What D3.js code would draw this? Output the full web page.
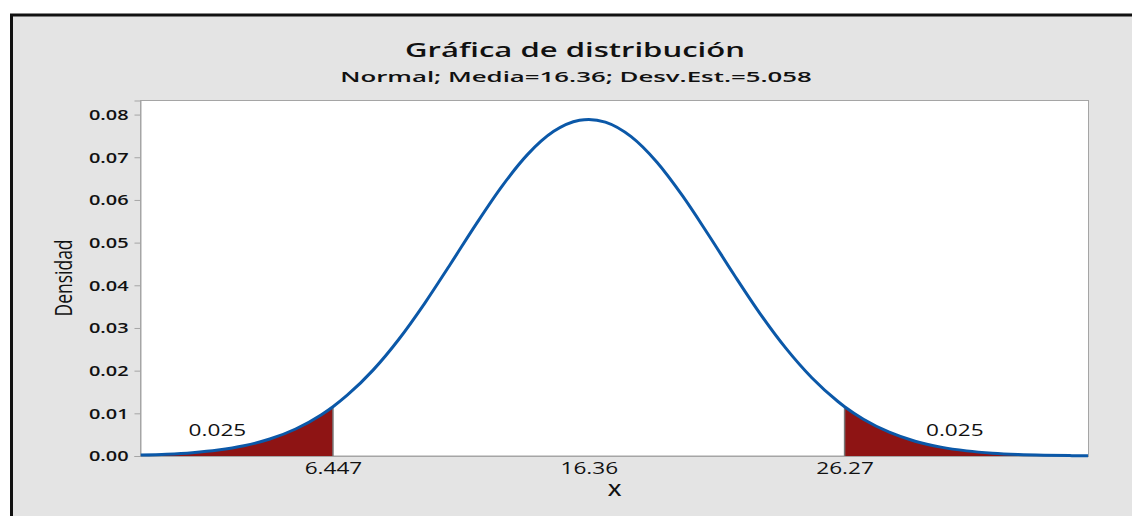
<!DOCTYPE html>
<head>
  <meta charset="utf-8">
  <script src="https://cdn.jsdelivr.net/npm/d3@7/dist/d3.min.js"></script>
  <style>
    body { margin:0; background:#fff; }
    text { font-family:"Open Sans","Noto Sans",sans-serif; fill:#111; }
  </style>
</head>

<body>
  <script>
    // density, x in units of X
    var densX = [-1, 0, 1, 2, 3, 4, 5, 6, 6.447, 7, 8, 9, 10, 11, 12, 13, 14, 15, 16, 16.36,
                 17, 18, 19, 20, 21, 22, 23, 24, 25, 26, 26.27, 27, 28, 29, 30, 31, 32, 33, 34, 35, 35.7];
    var densY = [0.00022, 0.00042, 0.00078, 0.00140, 0.00241, 0.00398, 0.00633, 0.00968, 0.01155, 0.01424,
                 0.02012, 0.02736, 0.03578, 0.04499, 0.05440, 0.06325, 0.07073, 0.07607, 0.07867, 0.07887,
                 0.07824, 0.07483, 0.06883, 0.06087, 0.05178, 0.04236, 0.03332, 0.02521, 0.01834, 0.01283,
                 0.01155, 0.00863, 0.00558, 0.00347, 0.00208, 0.00120, 0.00066, 0.00035, 0.00018, 0.00009, 0.00005];
    var xTicks = [6.447, 16.36, 26.27];
    var yTicks = [0, 0.01, 0.02, 0.03, 0.04, 0.05, 0.06, 0.07, 0.08];
    var tailProbs = ["0.025", "0.025"];
    var leftCut = 6.447, rightCut = 26.27;
    var titleText = "Gráfica de distribución",
        subText = "Normal; Media=16.36; Desv.Est.=5.058",
        xLabel = "X",
        yLabel = "Densidad";

    var width = 1132,
        height = 516,
        sx = 1.33;   // the picture is stretched sideways, so is the text

    var svg = d3.select("body")
      .append("svg")
      .attr("width", width)
      .attr("height", height);

    // grey graph region with black frame
    svg.append("rect")
      .attr("x", 11.5).attr("y", 15)
      .attr("width", 1200).attr("height", 600)
      .attr("fill", "#e4e4e4")
      .attr("stroke", "#111")
      .attr("stroke-width", 3);

    var pLeft = 140.5, pRight = 1088.5, pTop = 100.5, pBottom = 456;

    var x = d3.scaleLinear().domain([-1.01, 35.72]).range([pLeft, pRight]);
    var y = d3.scaleLinear().domain([0, 0.0833]).range([pBottom, pTop]);

    svg.append("rect")
      .attr("x", pLeft).attr("y", pTop)
      .attr("width", pRight - pLeft).attr("height", pBottom - pTop)
      .attr("fill", "#fff")
      .attr("stroke", "#a5a5a5");

    var pts = densX.map(function(d, i) { return {x: d, y: densY[i]}; });

    // tails: same area clipped at the cut points
    var defs = svg.append("defs");
    defs.append("clipPath").attr("id", "tailL").append("rect")
      .attr("x", pLeft).attr("y", pTop)
      .attr("width", x(leftCut) - pLeft).attr("height", pBottom - pTop);
    defs.append("clipPath").attr("id", "tailR").append("rect")
      .attr("x", x(rightCut)).attr("y", pTop)
      .attr("width", pRight - x(rightCut)).attr("height", pBottom - pTop);

    var area = d3.area()
      .x(function(d) { return x(d.x); })
      .y0(y(0))
      .y1(function(d) { return y(d.y); })
      .curve(d3.curveMonotoneX);

    ["tailL", "tailR"].forEach(function(id) {
      svg.append("path")
        .datum(pts)
        .attr("d", area)
        .attr("fill", "#8e1414")
        .attr("clip-path", "url(#" + id + ")");
    });

    [leftCut, rightCut].forEach(function(c) {
      var v = densY[densX.indexOf(c)];
      svg.append("line")
        .attr("x1", x(c)).attr("x2", x(c))
        .attr("y1", y(0)).attr("y2", y(v))
        .attr("stroke", "#777")
        .attr("stroke-width", 1.5);
    });

    // axes
    var yAxis = svg.append("g")
      .attr("transform", "translate(" + pLeft + ",0)")
      .call(d3.axisLeft(y).tickValues(yTicks).tickFormat(d3.format(".2f")).tickSize(6).tickPadding(3));
    yAxis.select(".domain").attr("stroke", "#a5a5a5");
    yAxis.selectAll(".tick line").attr("stroke", "#a5a5a5");
    yAxis.selectAll(".tick text")
      .attr("transform", "scale(" + sx + ",1)")
      .style("font-size", "15px")
      .style("font-weight", 600)
      .attr("fill", "#111");

    var xAxis = svg.append("g")
      .attr("transform", "translate(0," + pBottom + ")")
      .call(d3.axisBottom(x).tickValues(xTicks).tickFormat(function(d) { return String(d); }).tickSize(0).tickPadding(6));
    xAxis.select(".domain").attr("stroke", "#a5a5a5");
    xAxis.selectAll(".tick text")
      .attr("transform", "scale(" + sx + ",1)")
      .style("font-size", "17px")
      .attr("fill", "#111");

    // the density curve
    svg.append("path")
      .datum(pts)
      .attr("d", d3.line()
        .x(function(d) { return x(d.x); })
        .y(function(d) { return y(d.y); })
        .curve(d3.curveMonotoneX))
      .attr("fill", "none")
      .attr("stroke", "#0b58a8")
      .attr("stroke-width", 3);

    // texts; fitW stretches a text to a measured width
    function label(tx, ty, str, size, weight, rot, fitW) {
      var t = svg.append("text")
        .attr("text-anchor", "middle")
        .style("font-size", size + "px")
        .style("font-weight", weight)
        .text(str);
      var k = fitW ? fitW / t.node().getComputedTextLength() : sx;
      t.attr("transform", "translate(" + tx + "," + ty + ") scale(" + k + ",1)" + (rot ? " rotate(" + rot + ")" : ""));
    }

    label(575, 57, titleText, 20, 600, 0, 340);
    label(576, 82, subText, 15, 600, 0, 472);
    label((pLeft + pRight) / 2, 496, xLabel, 16, 600);
    label(71.5, 278, yLabel, 17.5, 400, -90);

    label(x(1.97), 436, tailProbs[0], 17, 400);
    label(x(30.54), 436, tailProbs[1], 17, 400);
  </script>
</body>
